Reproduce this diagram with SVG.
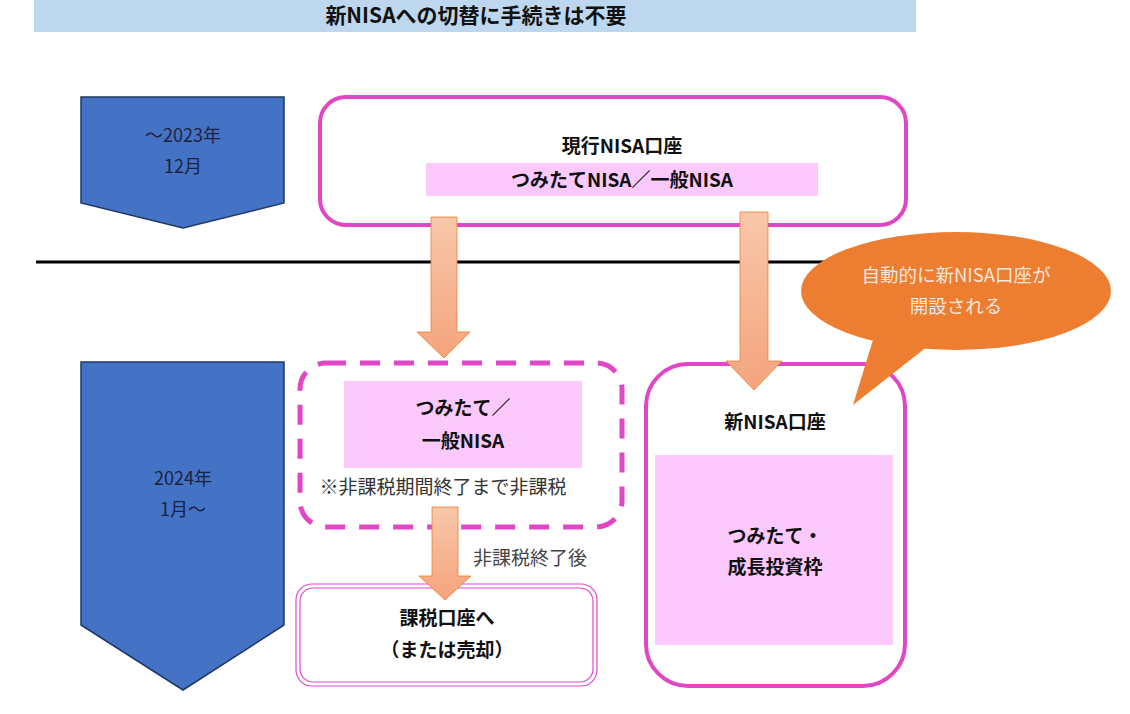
<svg xmlns="http://www.w3.org/2000/svg" width="1130" height="714" viewBox="0 0 1130 714">
<defs>
<linearGradient id="ag" x1="0" y1="0" x2="0" y2="1">
<stop offset="0" stop-color="#F8C7AA"/>
<stop offset="1" stop-color="#F4A47C"/>
</linearGradient>
<style>
.t{font-family:"Noto Sans CJK JP","Noto Sans",sans-serif;text-anchor:middle}
.b{font-weight:bold;fill:#111;font-size:19px}
.n{fill:#1a2340;font-size:18px}
.pink{fill:#FBC9FB}
.arr{fill:url(#ag);stroke:#ED7D31;stroke-width:0.8}
.pent{fill:#4472C4;stroke:#1F3864;stroke-width:1.5}
</style>
</defs>
<rect width="1130" height="714" fill="#fff"/>
<g id="title">
<rect x="34" y="0" width="882" height="32" fill="#BDD7EE"/>
<text class="t" x="476" y="23" font-size="21" font-weight="bold" fill="#111">新NISAへの切替に手続きは不要</text>
</g>
<line x1="36" y1="262" x2="830" y2="262" stroke="#000" stroke-width="3"/>
<g id="period1">
<polygon class="pent" points="81,97 284,97 284,203 183,228 81,203"/>
<text class="t n" x="183" y="142">～2023年</text>
<text class="t n" x="183" y="173">12月</text>
</g>
<g id="period2">
<polygon class="pent" points="81,362 284,362 284,625 183,690 81,625"/>
<text class="t n" x="183" y="485">2024年</text>
<text class="t n" x="183" y="516">1月～</text>
</g>
<g id="current">
<rect x="320" y="97" width="586" height="128" rx="26" fill="#fff" stroke="#E146C5" stroke-width="4"/>
<text class="t b" x="622" y="153">現行NISA口座</text>
<rect class="pink" x="426" y="163" width="392" height="33"/>
<text class="t b" x="622" y="187">つみたてNISA／一般NISA</text>
</g>
<g id="old">
<rect x="300" y="363" width="322" height="164" rx="26" fill="#fff" stroke="#E146C5" stroke-width="5" stroke-dasharray="20,14"/>
<rect class="pink" x="344" y="381" width="238" height="87"/>
<text class="t b" x="463" y="415">つみたて／</text>
<text class="t b" x="463" y="448">一般NISA</text>
<text class="t" x="443" y="494" font-size="19" fill="#333">※非課税期間終了まで非課税</text>
</g>
<g id="taxable">
<rect x="296" y="584" width="301" height="102" rx="16" fill="#fff" stroke="#D94FD0" stroke-width="1.2"/>
<rect x="300" y="588" width="293" height="94" rx="13" fill="none" stroke="#D94FD0" stroke-width="1.2"/>
<text class="t b" x="447" y="625">課税口座へ</text>
<text class="t b" x="447" y="657">（または売却）</text>
</g>
<g id="newnisa">
<rect x="646" y="364" width="259" height="322" rx="42" fill="#fff" stroke="#E146C5" stroke-width="4"/>
<text class="t b" x="775" y="429">新NISA口座</text>
<rect class="pink" x="655" y="455" width="238" height="190"/>
<text class="t b" x="775" y="543">つみたて・</text>
<text class="t b" x="775" y="574">成長投資枠</text>
</g>
<g id="connectors">
<polygon class="arr" points="431,217 457,217 457,332 470,332 444,358 417,332 431,332"/>
<polygon class="arr" points="740,212 768,212 768,361 782,361 754,390 726,361 740,361"/>
<polygon class="arr" points="432,507 458,507 458,576 471,576 445,600 419,576 432,576"/>
<text class="t" x="530" y="565" font-size="19" fill="#444">非課税終了後</text>
</g>
<g id="callout">
<path d="M873,340 L853,405 L933,342 Z" fill="#ED7D31"/>
<ellipse cx="956" cy="291" rx="155" ry="59" fill="#ED7D31"/>
<text class="t" x="956" y="282" font-size="18.5" fill="#FCE7DA">自動的に新NISA口座が</text>
<text class="t" x="956" y="313" font-size="18.5" fill="#FCE7DA">開設される</text>
</g>
</svg>
